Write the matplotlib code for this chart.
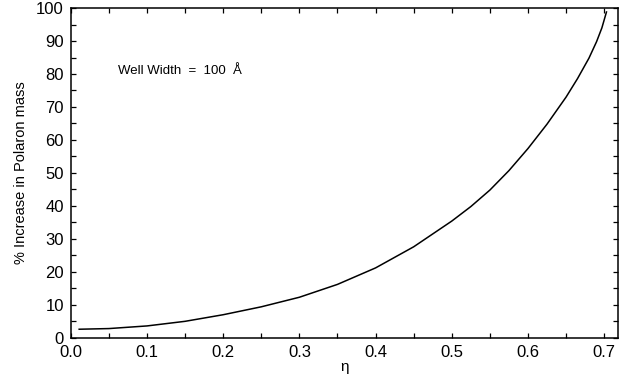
import matplotlib
matplotlib.use("Agg")
import matplotlib.pyplot as plt
from matplotlib.ticker import MultipleLocator, FormatStrFormatter

# values
eta = [0.011, 0.05, 0.10, 0.15, 0.20, 0.25, 0.30, 0.35, 0.40, 0.45,
       0.50, 0.525, 0.55, 0.575, 0.60, 0.625, 0.65, 0.665, 0.68, 0.69, 0.697, 0.703]
increase = [2.6, 2.8, 3.6, 5.0, 7.0, 9.4, 12.3, 16.2, 21.2, 27.6,
            35.4, 39.8, 44.8, 50.7, 57.4, 64.8, 73.0, 78.6, 84.8, 89.8, 94.0, 98.8]

plt.rcParams['font.family'] = ['Liberation Sans', 'DejaVu Sans']

fig = plt.figure(figsize=(6.21, 3.83), dpi=100)
ax = fig.add_axes([0.114, 0.118, 0.881, 0.861])

ax.plot(eta, increase, color='black', lw=1.1)

ax.set_xlim(0, 0.718)
ax.set_ylim(0, 100)
ax.xaxis.set_major_locator(MultipleLocator(0.1))
ax.xaxis.set_minor_locator(MultipleLocator(0.05))
ax.xaxis.set_major_formatter(FormatStrFormatter('%.1f'))
ax.yaxis.set_major_locator(MultipleLocator(10))
ax.yaxis.set_minor_locator(MultipleLocator(5))

ax.tick_params(which='both', direction='in', top=True, right=True,
               length=3.5, width=0.9, labelsize=12, pad=5)
for s in ax.spines.values():
    s.set_linewidth(1.1)

ax.set_xlabel('η', fontsize=11, labelpad=0)
ax.set_ylabel('% Increase in Polaron mass', fontsize=10.5, labelpad=6)

ax.text(0.062, 81, 'Well Width  =  100  Å', fontsize=9.5, va='center', ha='left')

fig.savefig('out.png', dpi=100)
